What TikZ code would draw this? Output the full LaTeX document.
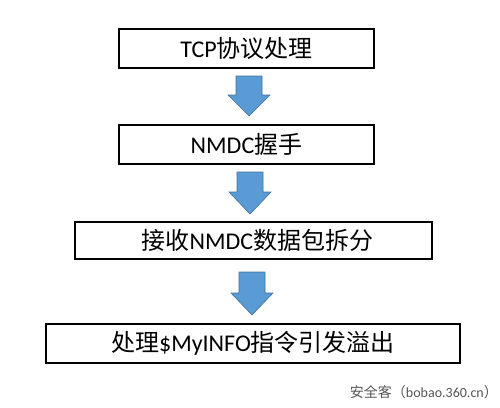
\documentclass[tikz,border=0pt]{standalone}
\usepackage{fontspec}
\setmainfont{Carlito}
\newfontfamily\cjk{Noto Sans CJK SC}
\newcommand\zh[1]{{\cjk #1}}
\definecolor{arrfill}{HTML}{5B9BD5}
\definecolor{arrline}{HTML}{41719C}
\definecolor{wm}{HTML}{555555}
\begin{document}
\begin{tikzpicture}[x=1pt,y=-1pt,
  stepbox/.style={draw=black,line width=1.8pt,fill=white,inner sep=0pt,font=\fontsize{24}{27}\selectfont},
  blockarrow/.style={fill=arrfill,draw=arrline,line width=0.6pt,line join=miter}]
\useasboundingbox (0,0) rectangle (500,407);
\node[stepbox,minimum width=255pt,minimum height=39pt] (b1) at (246.5,48.5) {TCP\zh{协议处理}};
\node[stepbox,minimum width=255pt,minimum height=39pt] (b2) at (246.5,144.5) {NMDC\zh{握手}};
\node[stepbox,minimum width=357pt,minimum height=37pt] (b3) at (253.5,240.5) {\hspace{8pt}\zh{接收}NMDC\zh{数据包拆分}};
\node[stepbox,minimum width=414pt,minimum height=39pt] (b4) at (253,343.5) {\zh{处理}\$MyINFO\zh{指令引发溢出}};
% block arrows between boxes
\draw[blockarrow] (236,76) -- (262,76) -- (262,95) -- (270,95) -- (249,116) -- (228,95) -- (236,95) -- cycle;
\draw[blockarrow] (237,172) -- (263,172) -- (263,192) -- (271,192) -- (250,214) -- (229,192) -- (237,192) -- cycle;
\draw[blockarrow] (239,272) -- (265,272) -- (265,293) -- (273,293) -- (252,315) -- (231,293) -- (239,293) -- cycle;
\node[text=wm,font=\fontsize{14}{16}\selectfont,anchor=east,inner sep=0pt] (wmk) at (498,392) {\zh{安全客（}bobao.360.cn\zh{）}};
\end{tikzpicture}
\end{document}
